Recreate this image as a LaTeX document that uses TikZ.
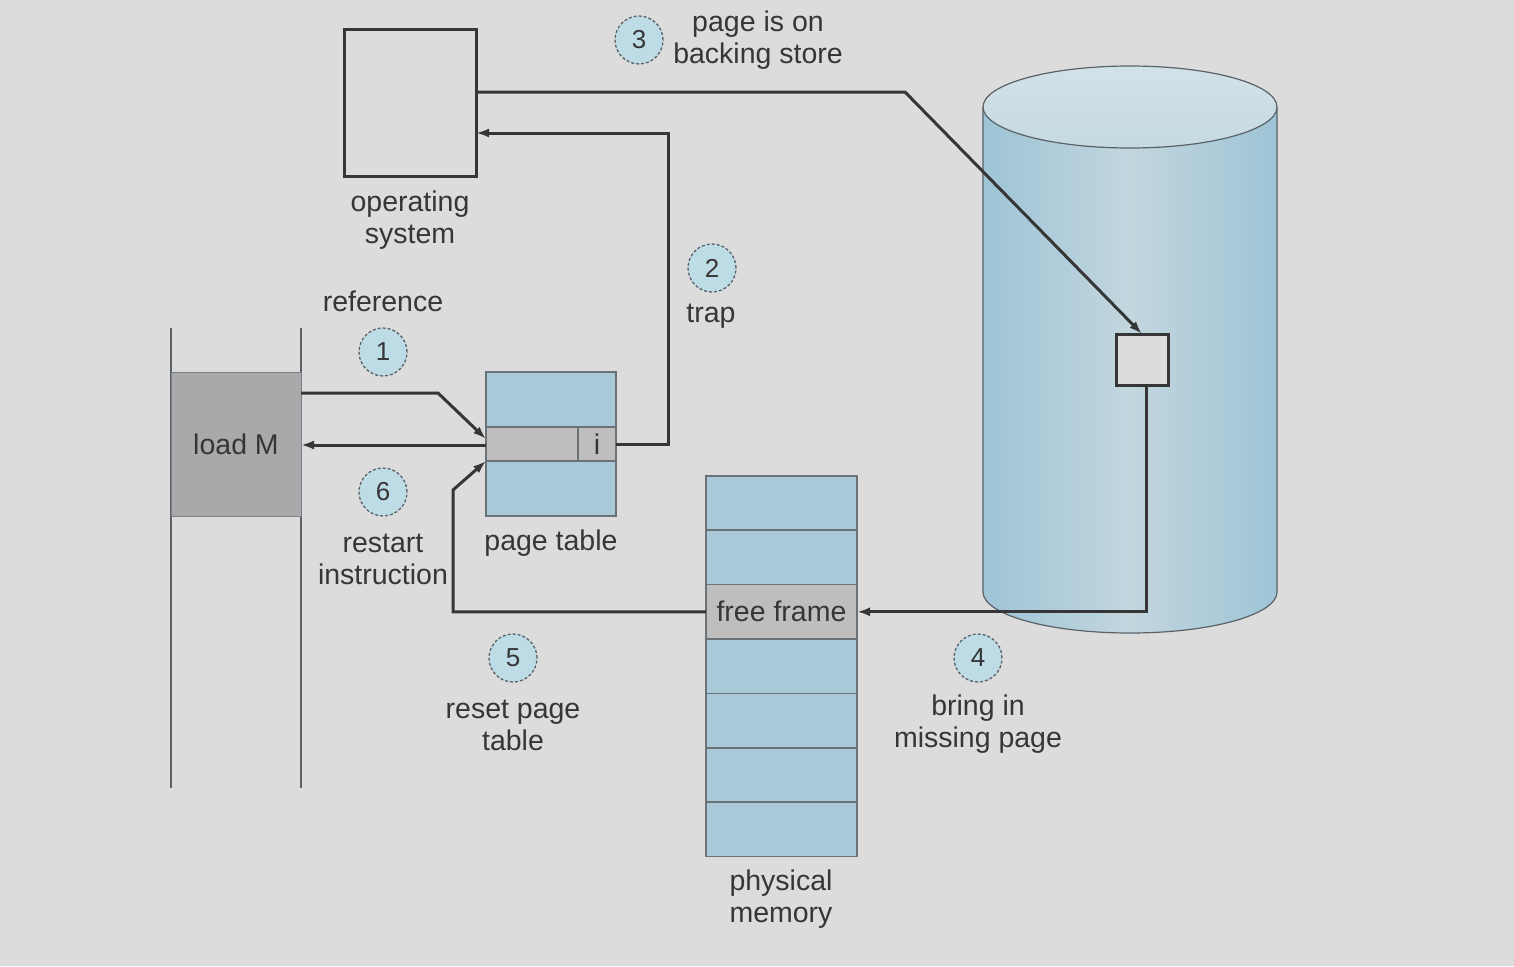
\documentclass[tikz,border=0pt]{standalone}
\usepackage{fontspec}
\setmainfont{Liberation Sans}
\usetikzlibrary{arrows.meta}
\definecolor{bg}{HTML}{DCDCDC}
\definecolor{blu}{HTML}{A9C9D8}
\definecolor{bluedge}{HTML}{9EC4D6}
\definecolor{blumid}{HTML}{C2D6DE}
\definecolor{bluetop}{HTML}{C6DAE2}
\definecolor{circfill}{HTML}{BDDCE6}
\definecolor{graybox}{HTML}{A9A8AA}
\definecolor{grayrow}{HTML}{BEBEBF}
\definecolor{ink}{HTML}{363636}
\definecolor{edge}{HTML}{5A6268}
\begin{document}
\begin{tikzpicture}[x=1pt,y=-1pt,
  every node/.style={font=\fontsize{28.5}{32}\selectfont, text=ink, inner sep=0pt, outer sep=0pt},
  lbl/.style={align=center},
  conn/.style={draw=ink, line width=3pt},
  arr/.style={conn, -{Latex[length=13pt,width=9pt]}},
  num/.style={circle, minimum size=48pt, fill=circfill, draw=edge, densely dashed, line width=1.3pt, font=\fontsize{26}{30}\selectfont},
  memrow/.style={fill=blu, draw=edge!90, line width=1.5pt, minimum width=151pt, minimum height=54.4pt}
]
\useasboundingbox (0,0) rectangle (1514,966);
\fill[bg] (0,0) rectangle (1514,966);

% cylinder (backing store)
\shade[left color=bluedge, right color=bluedge, middle color=blumid]
  (983,107) -- (983,592) arc[start angle=180, end angle=0, x radius=147, y radius=41] -- (1277,107) -- cycle;
\draw[edge, line width=1.2pt] (983,107) -- (983,592) arc[start angle=180, end angle=0, x radius=147, y radius=41] -- (1277,107);
\shade[top color=bluetop!80!white, bottom color=bluetop] (1130,107) ellipse[x radius=147, y radius=41];
\draw[edge, line width=1.2pt] (1130,107) ellipse[x radius=147, y radius=41];

% operating system
\node[draw=ink, line width=3pt, fill=bg, minimum width=132pt, minimum height=146pt] (os) at (410,103) {};
\node[lbl] (oslbl) at (410,220) {operating\\system};

% page on backing store (small square)
\node[draw=ink, line width=3pt, fill=bg, minimum width=52pt, minimum height=51pt] (sq) at (1142,359.5) {};

% load M process
\draw[edge, line width=2pt] (171,328) -- (171,788);
\draw[edge, line width=2pt] (301,328) -- (301,788);
\node[fill=graybox, draw=edge!80, line width=1pt, minimum width=130pt, minimum height=144pt] (lm) at (236,444) {};
\node (lmtext) at (236,444) {load M};

% page table
\node[fill=blu, draw=edge!90, line width=1.5pt, minimum width=130pt, minimum height=144pt] (pt) at (551,444) {};
\node[fill=grayrow, draw=edge!90, line width=1.2pt, minimum width=92pt, minimum height=34pt] (prow) at (532,444) {};
\node[fill=grayrow, draw=edge!90, line width=1.2pt, minimum width=38pt, minimum height=34pt] (icell) at (597,444) {i};
\node (ptlbl) at (551,543) {page table};

% physical memory
\node[memrow] (m1) at (781.5,503) {};
\node[memrow] (m2) at (781.5,557.4) {};
\node[memrow, fill=grayrow] (m3) at (781.5,611.8) {free frame};
\node[memrow] (m4) at (781.5,666.2) {};
\node[memrow] (m5) at (781.5,720.6) {};
\node[memrow] (m6) at (781.5,775) {};
\node[memrow] (m7) at (781.5,829.4) {};
\node[lbl] (pmlbl) at (781,899) {physical\\memory};

% connectors
% 1 reference
\draw[arr] ([yshift=51pt]lm.east) -- (438,393) -- ([yshift=5pt]prow.west);
% 2 trap
\draw[arr] (icell.east) -| (668,133) -- ([yshift=-30pt]os.east);
% 3 page is on backing store
\draw[arr] ([yshift=11pt]os.east) -- (905,92) -- (sq.north);
% 4 bring in missing page
\draw[arr] ([xshift=4pt]sq.south) |- (m3.east);
% 5 reset page table
\draw[arr] (m3.west) -| (453,490) -- (prow.south west);
% 6 restart instruction
\draw[arr] ([yshift=-1pt]prow.west) -- ([yshift=-1pt]lm.east);

% step labels
\node[num] (c1) at (383,352) {1};
\node (reflbl) at (383,301) {reference};
\node[num] (c2) at (712,268) {2};
\node (traplbl) at (711,316) {trap};
\node[num] (c3) at (639,40) {3};
\node[lbl] (bslbl) at (758,40) {page is on\\backing store};
\node[num] (c4) at (978,658) {4};
\node[lbl] (bilbl) at (978,724) {bring in\\missing page};
\node[num] (c5) at (513,658) {5};
\node[lbl] (rplbl) at (513,725) {reset page\\table};
\node[num] (c6) at (383,492) {6};
\node[lbl] (rilbl) at (383,559) {restart\\instruction};
\end{tikzpicture}
\end{document}
